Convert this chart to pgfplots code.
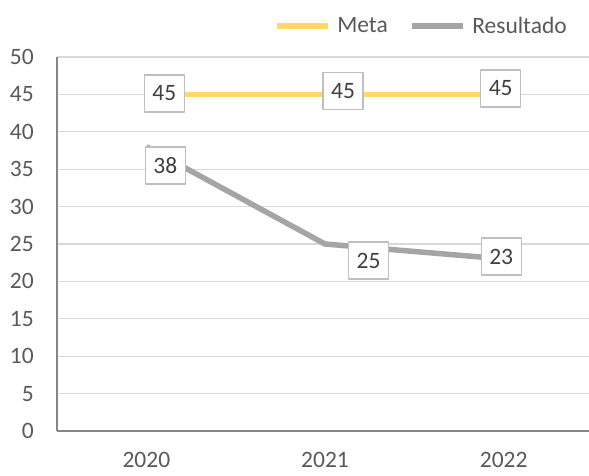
\documentclass[border=0pt]{standalone}
\usepackage{pgfplots}
\pgfplotsset{compat=1.18}
\usepackage{fontspec}
\setmainfont{Carlito}
\definecolor{metac}{HTML}{FFD966}
\definecolor{resc}{HTML}{A5A5A5}
\definecolor{txt}{HTML}{595959}
\definecolor{lbl}{HTML}{404040}
\definecolor{gridc}{HTML}{D9D9D9}
\definecolor{axl}{HTML}{868686}
\definecolor{boxc}{HTML}{BFBFBF}
\begin{document}
\begin{tikzpicture}
\useasboundingbox (0,0) rectangle (589pt,475pt);
\begin{axis}[
  at={(57pt,44pt)}, anchor=south west,
  scale only axis, width=536pt, height=374pt,
  xmin=-0.5, xmax=2.5, ymin=0, ymax=50,
  xtick={0,1,2}, xticklabels={2020,2021,2022},
  ytick={0,5,...,50},
  major tick length=0pt,
  axis x line*=bottom, axis y line*=left,
  axis line style={color=axl, line width=1.3pt},
  ymajorgrids, grid style={color=gridc, line width=1.1pt},
  tick label style={font=\fontsize{23.5}{28}\selectfont, text=txt},
  /pgf/number format/assume math mode=true,
  yticklabel style={anchor=east, inner sep=0pt, xshift=-23pt},
  xticklabel style={anchor=north, inner sep=0pt, yshift=-21pt},
  legend columns=2,
  legend style={draw=none, fill=none, inner sep=0pt,
    at={(0.9515,1.083)}, anchor=east,
    nodes={inner sep=0pt, text=txt, font=\fontsize{23.5}{28}\selectfont},
    /tikz/every odd column/.append style={column sep=7pt},
    /tikz/every even column/.append style={column sep=21pt}},
  legend image code/.code={\draw[#1, line cap=butt] (0pt,0pt) -- (51pt,0pt);},
  clip=false,
  every node near coord/.append style={anchor=center, draw=boxc, line width=1.3pt, fill=white,
    text=lbl, font=\fontsize{23.5}{28}\selectfont, inner xsep=8pt, minimum height=37pt, minimum width=40pt},
]
\addplot[metac, line width=5.5pt, line join=round,
  nodes near coords,
  visualization depends on={value \thisrow{dx} \as \dx},
  visualization depends on={value \thisrow{dy} \as \dy},
  every node near coord/.append style={xshift=\dx pt, yshift=\dy pt}]
  table[x=x, y=y] {
x y dx dy
0 45 18 1
1 45 18 3.4
2 45 -3 6
};
\addlegendentry{Meta}
\addplot[resc, line width=5.5pt, line join=round,
  nodes near coords,
  visualization depends on={value \thisrow{dx} \as \dx},
  visualization depends on={value \thisrow{dy} \as \dy},
  every node near coord/.append style={xshift=\dx pt, yshift=\dy pt}]
  table[x=x, y=y] {
x y dx dy
0 38 19 -18.7
1 25 43.5 -16.5
2 23 -2.5 2.5
};
\addlegendentry{Resultado}
\end{axis}
\end{tikzpicture}
\end{document}
